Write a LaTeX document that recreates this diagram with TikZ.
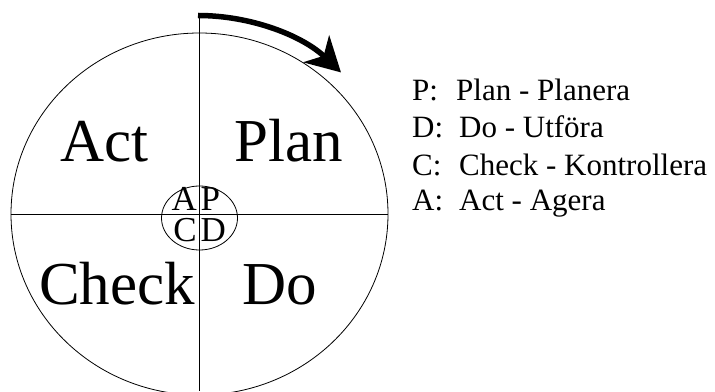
\documentclass[tikz,border=0pt]{standalone}
\usepackage{fontspec}
\setmainfont{Liberation Serif}
\usetikzlibrary{shapes.geometric,arrows.meta}
\tikzset{
  thinline/.style={line width=0.8pt, black},
  bigtxt/.style={anchor=base west, inner sep=0pt, font=\fontsize{61}{61}\selectfont},
  midtxt/.style={inner sep=0pt, font=\fontsize{35}{35}\selectfont},
  legtxt/.style={anchor=base west, inner sep=0pt, font=\fontsize{31}{31}\selectfont},
}
\begin{document}
\begin{tikzpicture}[x=1pt,y=1pt]
\useasboundingbox (0,0) rectangle (715,391);
% big circle
\node[ellipse, draw, thinline, minimum width=377pt, minimum height=362pt, inner sep=0pt] (big) at (199.5,177) {};
\coordinate (vtop) at (199.5,378);
\coordinate (vbot) at (199.5,0);
\draw[thinline] (big.west) -- (big.east);
\draw[thinline] (vtop) -- (vbot);
% small circle
\node[ellipse, draw, thinline, minimum width=76pt, minimum height=64pt, inner sep=0pt] (small) at (199.5,173) {};
\node[midtxt, anchor=base east] (la) at (197,180.5) {A};
\node[midtxt, anchor=base west] (lp) at (200.5,180.5) {P};
\node[midtxt, anchor=base east] (lc) at (197,149) {C};
\node[midtxt, anchor=base west] (ld) at (200.5,149) {D};
% quadrant words
\node[bigtxt] (act) at (60,229) {Act};
\node[bigtxt] (plan) at (234,229) {Plan};
\node[bigtxt] (check) at (39,86) {Check};
\node[bigtxt] (do) at (242,86) {Do};
% arrow
\coordinate (astart) at (198,375.5);
\draw[line width=5.5pt, -{Stealth[length=34pt,width=37pt,inset=10pt]}] (astart) arc[start angle=90, end angle=45.5, x radius=204pt, y radius=198.5pt];
% legend
\node[legtxt] (kp) at (412,290.3) {P:};
\node[legtxt] (tp) at (456,290.3) {Plan - Planera};
\node[legtxt] (kd) at (412,253.7) {D:};
\node[legtxt] (td) at (459,253.7) {Do - Utföra};
\node[legtxt] (kc) at (412,215.5) {C:};
\node[legtxt] (tc) at (459,215.5) {Check - Kontrollera};
\node[legtxt] (ka) at (412,180) {A:};
\node[legtxt] (ta) at (459,180) {Act - Agera};
\end{tikzpicture}
\end{document}
